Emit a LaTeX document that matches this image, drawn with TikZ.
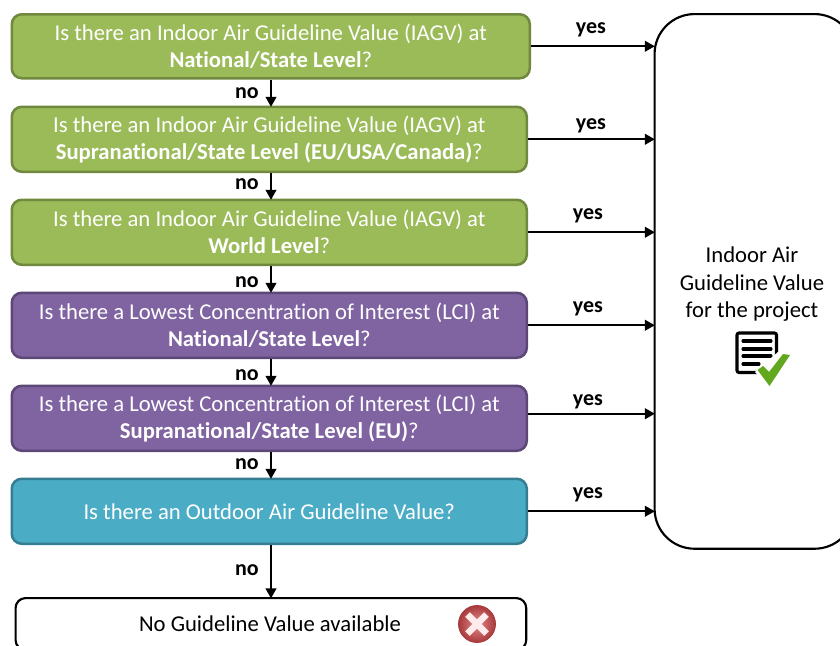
\documentclass[tikz,border=0pt]{standalone}
\usepackage{fontspec}
\setmainfont[Ligatures=CommonOff]{Carlito}
\usetikzlibrary{arrows.meta,calc,positioning}
\definecolor{grn}{HTML}{9BBB59}
\definecolor{grnd}{HTML}{71893F}
\definecolor{pur}{HTML}{8064A2}
\definecolor{purd}{HTML}{5C4776}
\definecolor{teal}{HTML}{4BACC6}
\definecolor{teald}{HTML}{357D91}
\definecolor{chk}{HTML}{62A81E}
\definecolor{xout}{HTML}{A83A3C}
\definecolor{xin}{HTML}{E58A8C}
\tikzset{
 qbox/.style={draw,line width=1.9pt,rounded corners=7.5pt,text=white,align=center,font=\fontsize{17}{20.25}\selectfont,inner sep=0pt,anchor=north west},
 gbox/.style={qbox,fill=grn,draw=grnd},
 pbox/.style={qbox,fill=pur,draw=purd},
 tbox/.style={qbox,fill=teal,draw=teald},
 wbox/.style={draw=black,line width=1.6pt,fill=white,inner sep=0pt,anchor=north west,align=center},
 conn/.style={-{Triangle[length=7.5pt,width=8pt]},line width=1.5pt,black,shorten >=-1pt},
 lab/.style={font=\fontsize{16.5}{18}\selectfont\bfseries,inner sep=0pt},
 plain/.style={font=\fontsize{17}{20.6}\selectfont,align=center,inner sep=0pt}
}
\begin{document}
\begin{tikzpicture}[x=0.75pt,y=-0.75pt]
\useasboundingbox (0,0) rectangle (840,646);
\clip (0,0) rectangle (840,646);
\coordinate (axis) at (271,0);
\node[gbox,minimum width=388.5pt,minimum height=48pt] (b1) at (10.5,13) {Is there an Indoor Air Guideline Value (IAGV) at\\\textbf{National/State Level}?};
\node[gbox,minimum width=386.25pt,minimum height=48.75pt] (b2) at (10.5,105.5) {Is there an Indoor Air Guideline Value (IAGV) at\\\textbf{Supranational/State Level (EU/USA/Canada)}?};
\node[gbox,minimum width=386.25pt,minimum height=48.75pt] (b3) at (10.5,198.5) {Is there an Indoor Air Guideline Value (IAGV) at\\\textbf{World Level}?};
\node[pbox,minimum width=386.25pt,minimum height=48.75pt] (b4) at (10.5,291.5) {Is there a Lowest Concentration of Interest (LCI) at\\\textbf{National/State Level}?};
\node[pbox,minimum width=386.25pt,minimum height=48.75pt] (b5) at (10.5,384.5) {Is there a Lowest Concentration of Interest (LCI) at\\\textbf{Supranational/State Level (EU)}?};
\node[tbox,minimum width=386.25pt,minimum height=48.75pt] (b6) at (10.5,477.5) {Is there an Outdoor Air Guideline Value?};
\node[wbox,rounded corners=7.5pt,minimum width=383pt,minimum height=39pt] (b7) at (14.5,597) {};
\node[plain] (b7t) at (270,624) {No Guideline Value available};
\node[wbox,rounded corners=30pt,minimum width=150pt,minimum height=401pt] (r) at (653.5,13) {};
\node[plain] (rt) at (752,284.5) {Indoor Air\\Guideline Value\\for the project};
% vertical connectors
\draw[conn] (axis |- b1.south) -- (axis |- b2.north);
\draw[conn] (axis |- b2.south) -- (axis |- b3.north);
\draw[conn] (axis |- b3.south) -- (axis |- b4.north);
\draw[conn] (axis |- b4.south) -- (axis |- b5.north);
\draw[conn] (axis |- b5.south) -- (axis |- b6.north);
\draw[conn] (axis |- b6.south) -- (axis |- b7.north);
% horizontal connectors
\draw[conn] (b1.east) -- (b1.east -| r.west);
\draw[conn] (b2.east) -- (b2.east -| r.west);
\draw[conn] (b3.east) -- (b3.east -| r.west);
\draw[conn] (b4.east) -- (b4.east -| r.west);
\draw[conn] ([yshift=3.4pt]b5.east) -- ([yshift=3.4pt]b5.east -| r.west);
\draw[conn] (b6.east) -- (b6.east -| r.west);
% labels
\node[lab] (n1) at (247,93) {no};
\node[lab] (n2) at (247,184) {no};
\node[lab] (n3) at (247,282) {no};
\node[lab] (n4) at (247,375) {no};
\node[lab] (n5) at (247,464) {no};
\node[lab] (n6) at (247,570) {no};
\node[lab] (y1) at (591,29.5) {yes};
\node[lab] (y2) at (591,125.5) {yes};
\node[lab] (y3) at (588,215.5) {yes};
\node[lab] (y4) at (588,308.5) {yes};
\node[lab] (y5) at (588,401.5) {yes};
\node[lab] (y6) at (588,494.5) {yes};
% document icon
\draw[black,line width=2.3pt,rounded corners=1.5pt] (737,333) rectangle (776.5,372.5);
\foreach \yy/\xe in {341/771,349/771,356/771,364/759}
  \draw[black,line width=2.3pt,line cap=round] (743,\yy) -- (\xe,\yy);
\fill[white] (755,372) -- (768,386) -- (792,352) -- (778,352) -- cycle;
\fill[chk] (757.5,370) -- (763,366) -- (769,372) -- (783,354) -- (790,355) -- (769.5,386) -- cycle;
% cross icon
\shade[inner color=xin,outer color=xout,draw=xout,line width=0.6pt] (477,624) circle (18.5);
\draw[white!92!red,line width=5pt] (467.5,614.5) -- (486.5,633.5) (486.5,614.5) -- (467.5,633.5);
\end{tikzpicture}
\end{document}
